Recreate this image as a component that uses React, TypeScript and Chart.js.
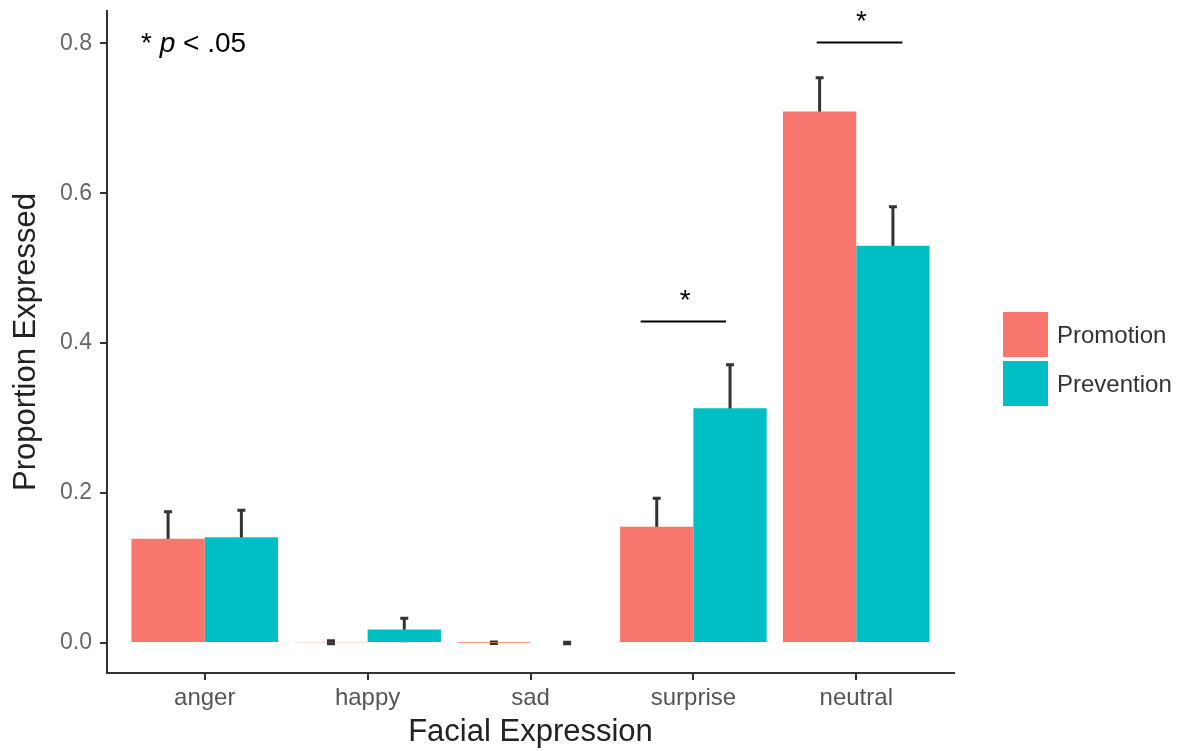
import React, { useEffect, useRef } from "react";
import { Chart, registerables } from "chart.js";

Chart.register(...registerables);

const categories = ["anger", "happy", "sad", "surprise", "neutral"];
const seriesNames = ["Promotion", "Prevention"];
const promotion = [0.139, 0.001, 0.0005, 0.155, 0.709];
const prevention = [0.141, 0.018, 0, 0.313, 0.53];
const promotionSE = [0.036, 0.002, 0.001, 0.038, 0.045];
const preventionSE = [0.036, 0.015, 0.001, 0.058, 0.052];
const yTicks = [0, 0.2, 0.4, 0.6, 0.8];
const sigMarks = [
  { category: 3, from: -0.324, to: 0.2, level: 0.429 },
  { category: 4, from: -0.243, to: 0.283, level: 0.801 },
];
const noteParts = ["* ", "p", " < .05"];

const PROMO = "#F8766D";
const PREV = "#00BFC4";
const FONT = "'Liberation Sans', Arial, Helvetica, sans-serif";

const overlay = {
  id: "overlay",
  beforeDatasetsDraw(chart: any) {
    const ctx = chart.ctx;
    const ys = chart.scales.y;
    [promotion, prevention].forEach((vals, d) => {
      const se = d === 0 ? promotionSE : preventionSE;
      const meta = chart.getDatasetMeta(d);
      meta.data.forEach((bar: any, i: number) => {
        const x = bar.x;
        const top = ys.getPixelForValue(vals[i] + se[i]);
        const bot = ys.getPixelForValue(vals[i] - se[i]);
        ctx.save();
        ctx.strokeStyle = "#333";
        ctx.lineWidth = 3;
        ctx.beginPath();
        ctx.moveTo(x, top);
        ctx.lineTo(x, bot);
        ctx.moveTo(x - 4, top);
        ctx.lineTo(x + 4, top);
        ctx.moveTo(x - 4, bot);
        ctx.lineTo(x + 4, bot);
        ctx.stroke();
        ctx.restore();
      });
    });
  },
  afterDraw(chart: any) {
    const ctx = chart.ctx;
    const xs = chart.scales.x;
    const ys = chart.scales.y;
    ctx.save();
    // significance marks
    sigMarks.forEach((m) => {
      const x0 = xs.getPixelForValue(m.category + 1 + m.from);
      const x1 = xs.getPixelForValue(m.category + 1 + m.to);
      const y = ys.getPixelForValue(m.level);
      ctx.strokeStyle = "#000";
      ctx.lineWidth = 2;
      ctx.beginPath();
      ctx.moveTo(x0, y);
      ctx.lineTo(x1, y);
      ctx.stroke();
      ctx.fillStyle = "#000";
      ctx.font = `28px ${FONT}`;
      ctx.textAlign = "center";
      ctx.textBaseline = "alphabetic";
      ctx.fillText("*", (x0 + x1) / 2 + 2, y - 12);
    });
    // note
    let nx = 141;
    const ny = 52;
    ctx.textAlign = "left";
    ctx.textBaseline = "alphabetic";
    ctx.fillStyle = "#000";
    noteParts.forEach((p, i) => {
      ctx.font = i === 1 ? `italic 28px ${FONT}` : `28px ${FONT}`;
      ctx.fillText(p, nx, ny);
      nx += ctx.measureText(p).width;
    });
    // legend
    const colors = [PROMO, PREV];
    seriesNames.forEach((name, i) => {
      const by = 312 + i * 49;
      ctx.fillStyle = colors[i];
      ctx.fillRect(1003, by, 45, 45);
      ctx.fillStyle = "#333";
      ctx.font = `24px ${FONT}`;
      ctx.textBaseline = "middle";
      ctx.fillText(name, 1057, by + 24);
    });
    ctx.restore();
  },
};

export default function App() {
  const ref = useRef<HTMLCanvasElement | null>(null);
  useEffect(() => {
    if (!ref.current) return;
    Chart.defaults.font.family = FONT;
    const chart = new Chart(ref.current, {
      type: "bar",
      data: {
        datasets: [
          {
            label: seriesNames[0],
            data: promotion.map((v, i) => ({ x: i + 1, y: v })),
            backgroundColor: PROMO,
            borderWidth: 0,
            categoryPercentage: 0.9,
            barPercentage: 1,
          },
          {
            label: seriesNames[1],
            data: prevention.map((v, i) => ({ x: i + 1, y: v })),
            backgroundColor: PREV,
            borderWidth: 0,
            categoryPercentage: 0.9,
            barPercentage: 1,
          },
        ],
      },
      options: {
        animation: false,
        responsive: false,
        maintainAspectRatio: false,
        layout: { padding: { left: 0, top: 11, right: 236, bottom: 0 } },
        plugins: { legend: { display: false }, tooltip: { enabled: false } },
        scales: {
          x: {
            type: "linear",
            min: 0.4,
            max: 5.6,
            offset: false,
            afterBuildTicks: (s: any) => {
              s.ticks = categories.map((_, i) => ({ value: i + 1 }));
            },
            afterFit: (s: any) => {
              s.height = 78;
              s.paddingLeft = 0;
              s.paddingRight = 0;
            },
            ticks: {
              callback: (_v: any, i: number) => categories[i] ?? "",
              font: { size: 24 },
              color: "#555",
              padding: 4,
              maxRotation: 0,
              autoSkip: false,
            },
            grid: {
              display: true,
              offset: false,
              drawOnChartArea: false,
              drawTicks: true,
              tickLength: 7,
              color: "#333",
              lineWidth: 2,
            },
            border: { display: true, color: "#333", width: 2 },
            title: {
              display: true,
              text: "Facial Expression",
              font: { size: 31 },
              color: "#222",
              padding: { top: 0, bottom: 0 },
            },
          },
          y: {
            type: "linear",
            min: -0.04,
            max: 0.843,
            afterBuildTicks: (s: any) => {
              s.ticks = yTicks.map((v) => ({ value: v }));
            },
            afterFit: (s: any) => {
              s.width = 107;
              s.paddingTop = 0;
              s.paddingBottom = 0;
            },
            ticks: {
              callback: (v: any) => Number(v).toFixed(1),
              font: { size: 23 },
              color: "#666",
              padding: 8,
            },
            grid: {
              display: true,
              drawOnChartArea: false,
              drawTicks: true,
              tickLength: 7,
              color: "#333",
              lineWidth: 2,
            },
            border: { display: true, color: "#333", width: 2 },
            title: {
              display: true,
              text: "Proportion Expressed",
              font: { size: 31 },
              color: "#222",
              padding: { top: 8, bottom: 0 },
            },
          },
        },
      },
      plugins: [overlay],
    } as any);
    return () => chart.destroy();
  }, []);
  return (
    <div style={{ position: "absolute", left: 0, top: 0, width: 1190, height: 751, background: "#fff" }}>
      <canvas ref={ref} width={1190} height={751} style={{ width: 1190, height: 751, display: "block" }} />
    </div>
  );
}
